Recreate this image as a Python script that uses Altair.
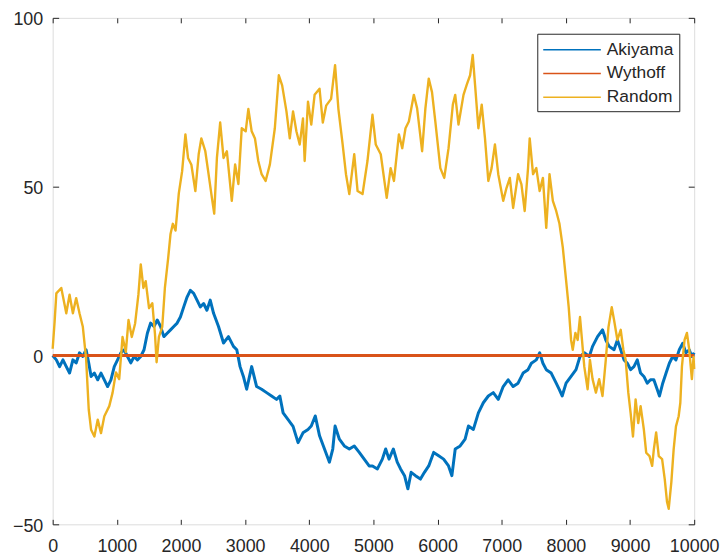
import altair as alt
import pandas as pd

# ---- data ----
series_names = ["Akiyama", "Wythoff", "Random"]
series_colors = ["#0072BD", "#D95319", "#EDB120"]

akiyama_steps = [0, 57, 108, 160, 212, 263, 315, 366, 418, 470, 521, 562, 599, 650, 702, 753, 805, 856, 908, 960,
                 1011, 1063, 1114, 1166, 1218, 1269, 1321, 1373, 1424, 1476, 1527, 1579, 1630, 1682, 1733, 1785,
                 1837, 1888, 1940, 1991, 2043, 2095, 2146, 2198, 2250, 2301, 2353, 2404, 2456, 2508, 2585, 2663,
                 2740, 2818, 2870, 2921, 2973, 3024, 3102, 3179, 3257, 3334, 3412, 3489, 3541, 3592, 3670, 3747,
                 3825, 3902, 3980, 4031, 4093, 4160, 4237, 4314, 4366, 4402, 4469, 4546, 4624, 4701, 4779, 4856,
                 4933, 4985, 5062, 5139, 5191, 5243, 5310, 5371, 5423, 5485, 5537, 5588, 5655, 5733, 5795, 5862,
                 5939, 6017, 6094, 6171, 6223, 6275, 6352, 6429, 6481, 6558, 6636, 6713, 6791, 6868, 6946, 7023,
                 7100, 7178, 7255, 7333, 7410, 7462, 7539, 7591, 7642, 7694, 7771, 7849, 7900, 7942, 8003, 8081,
                 8158, 8220, 8287, 8365, 8416, 8494, 8571, 8622, 8674, 8751, 8803, 8855, 8906, 8958, 9009, 9061,
                 9113, 9164, 9216, 9268, 9319, 9371, 9423, 9459, 9510, 9562, 9613, 9665, 9716, 9768, 9820, 9871,
                 9923, 9964, 10000]
akiyama_vals = [0, -1.3, -3.3, -1.3, -3.3, -5.2, -1.3, -2.2, 0.8, -0.3, 1.7, -2.2, -6.2, -5.2, -7.2, -5.2, -7.2,
                -9.2, -7.2, -3.3, -1.3, 0.8, 1.7, -0.3, -2.2, -0.3, -1.3, -0.3, 1.7, 6.6, 9.6, 8.6, 10.5, 8.6, 5.6,
                6.6, 7.6, 8.6, 9.6, 11.4, 14.4, 17.3, 19.3, 18.4, 16.4, 14.4, 15.4, 13.4, 16.4, 12.5, 8.6, 3.7,
                5.6, 2.7, 1.7, -3.3, -6.2, -10, -3.3, -9.2, -10, -11, -12, -13, -12, -17, -19, -21, -25.8, -22.9,
                -21.9, -20.9, -17.9, -23.8, -27.7, -31.6, -27.7, -20.9, -24.8, -26.8, -27.7, -26.8, -28.7, -30.7,
                -32.7, -32.7, -33.6, -30.7, -27.7, -30.7, -27.7, -31.6, -33.6, -35.6, -39.5, -34.6, -35.6, -36.6,
                -34.6, -32.7, -28.7, -29.7, -30.7, -32.7, -35.6, -27.7, -26.8, -24.8, -20.9, -21.9, -17, -14, -12,
                -11, -13, -9.2, -7.2, -9.2, -8.2, -5.2, -4.2, -2.3, -1.3, 0.8, -2.3, -4.2, -5.2, -8.2, -10.2, -12,
                -8.2, -6.2, -4.2, -0.3, 0.8, -0.3, 2.7, 5.6, 7.6, 4.6, 2.7, 1.7, 4.6, 1.7, -1.3, -2.3, -4.2, -3.3,
                -1.3, -5.2, -6.2, -8.2, -7.2, -7.2, -10, -12, -8.2, -5.2, -2.3, -0.3, -1.3, 1.7, 3.6, 0.8, 1.7,
                -0.3, 0.8]

wythoff_steps = [0, 2500, 5000, 7500, 10000]
wythoff_vals = [0, 0, 0, 0, 0]

random_steps = [0, 30, 57, 134, 212, 263, 315, 366, 418, 470, 521, 562, 599, 650, 702, 753, 805, 882, 934, 986,
                1037, 1089, 1140, 1182, 1233, 1285, 1336, 1373, 1414, 1450, 1502, 1553, 1594, 1620, 1656, 1708,
                1749, 1801, 1837, 1873, 1915, 1966, 2018, 2069, 2110, 2162, 2224, 2276, 2317, 2379, 2430, 2482,
                2518, 2560, 2611, 2663, 2715, 2792, 2844, 2895, 2947, 3009, 3050, 3102, 3153, 3205, 3257, 3319,
                3386, 3463, 3525, 3577, 3644, 3696, 3747, 3799, 3851, 3902, 3928, 3980, 4031, 4083, 4160, 4211,
                4263, 4340, 4402, 4454, 4520, 4572, 4624, 4701, 4753, 4830, 4907, 4985, 5036, 5114, 5207, 5268,
                5320, 5397, 5449, 5500, 5552, 5630, 5681, 5759, 5810, 5862, 5913, 5965, 6043, 6104, 6171, 6238,
                6275, 6326, 6404, 6455, 6507, 6548, 6584, 6636, 6688, 6739, 6791, 6842, 6894, 6946, 7023, 7074,
                7126, 7178, 7255, 7307, 7358, 7410, 7436, 7488, 7539, 7591, 7642, 7694, 7745, 7797, 7849, 7900,
                7952, 8003, 8044, 8081, 8107, 8148, 8184, 8220, 8251, 8287, 8339, 8375, 8416, 8468, 8519, 8571,
                8622, 8664, 8715, 8751, 8803, 8855, 8896, 8932, 8973, 9009, 9046, 9087, 9128, 9165, 9216, 9252,
                9304, 9345, 9371, 9407, 9448, 9500, 9541, 9577, 9603, 9644, 9680, 9716, 9758, 9784, 9809, 9850,
                9887, 9923, 9964, 9990, 10000]
random_vals = [2, 10, 18.4, 20, 12.5, 18, 12.5, 17, 12.5, 8.5, -1, -16, -22, -24, -19, -23, -18, -15, -11, -5, -7,
               5.5, 1, 10.5, 5.5, 9.5, 18, 27, 20, 22, 14, 15.5, 6.5, -2, 5.5, 8.5, 20, 29, 36, 39, 37, 48, 54.6,
               65.5, 58.5, 56.5, 48.7, 59.6, 64.3, 60.5, 53.7, 46.7, 42, 58.5, 69, 58.5, 60.5, 45.8, 56.6, 50.8,
               67.3, 66.4, 73, 66.4, 64.3, 57.6, 53.7, 51.7, 56.6, 67.3, 83, 80, 72.3, 64.3, 72.3, 66.4, 62.5,
               70.2, 57.6, 75.2, 68.4, 77.2, 79, 69, 74, 76, 86, 73, 62.5, 53.7, 47.8, 59.6, 48.7, 47.8, 57.6,
               71.3, 62.5, 59.6, 46.7, 55.5, 51.7, 65.5, 61.4, 67.3, 69.3, 77.2, 73.2, 60.5, 73.2, 82, 78, 69.3,
               55.5, 52.6, 61.4, 74.3, 77.2, 68.4, 77.2, 80.2, 83, 89, 80.2, 67.3, 74.3, 64.3, 51.7, 55.5, 62.5,
               53.7, 45.8, 49.6, 52.6, 43.7, 53.7, 50.7, 42.8, 55.5, 64.3, 53.7, 55.5, 48.7, 52.6, 37.8, 53.7,
               45.8, 42.8, 39, 32, 22.3, 14.3, 4.6, 1.7, 6.7, 4.6, 11.4, 4.6, -3.3, -10, -1.3, -7, -11, -7, -12,
               -1.3, 8.4, 14.3, 10.5, 4.6, 7.6, 1.7, -1.3, -11, -17, -24, -13, -20, -15, -22, -28.8, -29.8, -32.7,
               -27.8, -22.8, -29.8, -30.7, -36.6, -43.4, -45.4, -37.5, -27.8, -21, -18, -14, -3.3, 4.6, 6.7, 1.7,
               -7, -0.4, -4]

x_ticks = [0, 1000, 2000, 3000, 4000, 5000, 6000, 7000, 8000, 9000, 10000]
y_ticks = [-50, 0, 50, 100]

W, H = 646, 510
AX = "#262626"
FONT = "Liberation Sans"


def frame(name, steps, vals):
    return pd.DataFrame({"step": steps, "value": vals, "series": name})


color = alt.Color(
    "series:N",
    scale=alt.Scale(domain=series_names, range=series_colors),
    title=None,
    legend=alt.Legend(
        orient="none", legendX=488, legendY=16, direction="vertical",
        strokeColor=AX, fillColor="white", padding=5,
        symbolType="M-1,0H4.8", symbolSize=400, symbolStrokeWidth=1.5,
        labelFont=FONT, labelFontSize=17.5, labelColor=AX, labelOffset=43,
        rowPadding=4,
    ),
)

xenc = alt.X(
    "step:Q",
    scale=alt.Scale(domain=[0, 10000], nice=False, zero=False),
    axis=alt.Axis(values=x_ticks, title=None, ticks=False, domain=False,
                  grid=True, gridColor=AX, gridOpacity=1, gridWidth=1,
                  gridDash=[5, H - 10, 5, 20000],
                  labelFont=FONT, labelFontSize=18, labelColor=AX,
                  labelPadding=13, labelFlush=False, format="d"),
)
yenc = alt.Y(
    "value:Q",
    scale=alt.Scale(domain=[-50, 100], nice=False, zero=False),
    axis=alt.Axis(values=y_ticks, title=None, ticks=False, domain=False,
                  grid=True, gridColor=AX, gridOpacity=1, gridWidth=1,
                  gridDash=[6, W - 12, 6, 20000],
                  labelFont=FONT, labelFontSize=18, labelColor=AX,
                  labelPadding=10, labelOffset=2, labelFlush=False, format="d"),
)

widths = {"Akiyama": 3, "Wythoff": 3, "Random": 2.4}
data = {
    "Akiyama": frame("Akiyama", akiyama_steps, akiyama_vals),
    "Wythoff": frame("Wythoff", wythoff_steps, wythoff_vals),
    "Random": frame("Random", random_steps, random_vals),
}

layers = []
for name in series_names:
    layers.append(
        alt.Chart(data[name])
        .mark_line(strokeWidth=widths[name], strokeJoin="round")
        .encode(x=xenc, y=yenc, color=color)
    )

chart = (
    alt.layer(*layers)
    .properties(width=W, height=H, autosize="none",
                padding={"left": 45, "top": 8, "right": 26, "bottom": 32})
    .configure_view(stroke=AX, strokeWidth=1)
    .configure(background="white")
)

chart.save("out.html", embed_options={"renderer": "svg", "actions": False})
